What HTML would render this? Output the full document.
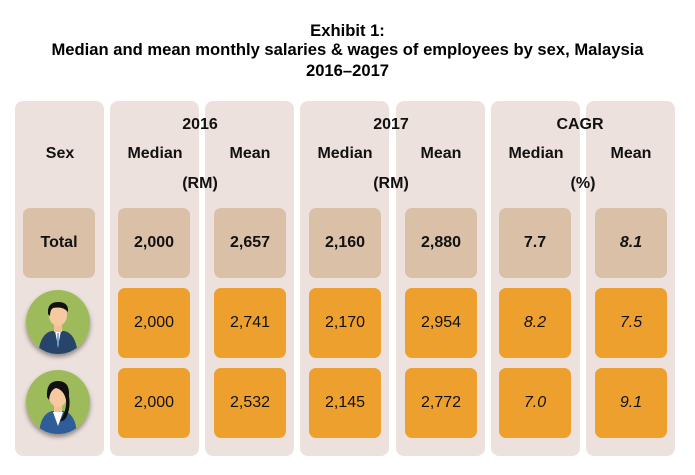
<!DOCTYPE html>
<html><head><style>
body{margin:0;background:#fff;width:695px;height:475px;position:relative;font-family:"Liberation Sans",Arial,sans-serif;overflow:hidden}
.t{position:absolute;left:0;width:695px;text-align:center;font-weight:bold;font-size:16.6px;color:#000}
.col{position:absolute;top:101px;height:355px;width:89px;background:#ede1dd;border-radius:8px}
.box{position:absolute;width:72px;height:70px;border-radius:7px;display:flex;align-items:center;justify-content:center;font-size:16px;color:#111}
.tot{background:#dbc0a8;font-weight:bold;top:208px}
.o{background:#eea02f}
.r2{top:288px}.r3{top:368px}
.h{position:absolute;font-weight:bold;font-size:16px;color:#111;transform:translateX(-50%);white-space:nowrap}
i{font-style:italic}
</style></head><body>
<div class="t" style="top:21px">Exhibit 1:</div>
<div class="t" style="top:40px">Median and mean monthly salaries &amp; wages of employees by sex, Malaysia</div>
<div class="t" style="top:61px">2016–2017</div>

<div class="col" style="left:15px"></div>
<div class="col" style="left:110px"></div>
<div class="col" style="left:205px"></div>
<div class="col" style="left:300px"></div>
<div class="col" style="left:396px"></div>
<div class="col" style="left:491px"></div>
<div class="col" style="left:586px"></div>

<div class="h" style="left:200px;top:116px">2016</div>
<div class="h" style="left:391px;top:116px">2017</div>
<div class="h" style="left:580px;top:116px">CAGR</div>
<div class="h" style="left:60px;top:145px">Sex</div>
<div class="h" style="left:155px;top:145px">Median</div>
<div class="h" style="left:250px;top:145px">Mean</div>
<div class="h" style="left:345px;top:145px">Median</div>
<div class="h" style="left:441px;top:145px">Mean</div>
<div class="h" style="left:536px;top:145px">Median</div>
<div class="h" style="left:631px;top:145px">Mean</div>
<div class="h" style="left:200px;top:175px">(RM)</div>
<div class="h" style="left:391px;top:175px">(RM)</div>
<div class="h" style="left:583px;top:175px">(%)</div>

<div class="box tot" style="left:23px">Total</div>
<div class="box tot" style="left:118px">2,000</div>
<div class="box tot" style="left:214px">2,657</div>
<div class="box tot" style="left:309px">2,160</div>
<div class="box tot" style="left:405px">2,880</div>
<div class="box tot" style="left:499px">7.7</div>
<div class="box tot" style="left:595px"><i>8.1</i></div>

<div class="box o r2" style="left:118px">2,000</div>
<div class="box o r2" style="left:214px">2,741</div>
<div class="box o r2" style="left:309px">2,170</div>
<div class="box o r2" style="left:405px">2,954</div>
<div class="box o r2" style="left:499px"><i>8.2</i></div>
<div class="box o r2" style="left:595px"><i>7.5</i></div>

<div class="box o r3" style="left:118px">2,000</div>
<div class="box o r3" style="left:214px">2,532</div>
<div class="box o r3" style="left:309px">2,145</div>
<div class="box o r3" style="left:405px">2,772</div>
<div class="box o r3" style="left:499px"><i>7.0</i></div>
<div class="box o r3" style="left:595px"><i>9.1</i></div>

<svg style="position:absolute;left:0;top:0" width="695" height="475">
<defs><filter id="s" x="-30%" y="-30%" width="160%" height="160%"><feDropShadow dx="0" dy="3" stdDeviation="2.5" flood-color="#000" flood-opacity="0.4"/></filter>
<clipPath id="c1"><circle cx="58" cy="322" r="32"/></clipPath>
<clipPath id="c2"><circle cx="58" cy="402" r="32"/></clipPath></defs>
<circle cx="58" cy="322" r="32" fill="#9dbb5a" filter="url(#s)"/>
<g clip-path="url(#c1)">
<path d="M38 355 Q40 333 52 331 L64 331 Q76 333 78 355Z" fill="#27446a"/>
<path d="M55 331 L58 346 L61 331Z" fill="#fff"/>
<path d="M57.3 333 L58.7 333 L59 345 L58 348 L57 345Z" fill="#6a9ad0"/>
<rect x="54" y="322" width="8" height="10" fill="#f4c197"/>
<ellipse cx="58" cy="315" rx="9" ry="11" fill="#f6c9a0"/>
<path d="M48 314 Q47 302 58 302 Q69 302 68 312 Q63 306 53 308 Q50 310 50 316Z" fill="#111"/>
</g>
<circle cx="58" cy="402" r="32" fill="#9dbb5a" filter="url(#s)"/>
<g clip-path="url(#c2)">
<path d="M39 435 Q40 414 52 411 L64 411 Q76 414 77 435Z" fill="#2f5d9a"/>
<path d="M53 412 L58 426 L63 412Z" fill="#fff"/>
<rect x="54" y="402" width="8" height="10" fill="#f4c197"/>
<ellipse cx="58" cy="396" rx="9" ry="11" fill="#f6c9a0"/>
<path d="M47 397 Q46 381 58 381 Q70 381 69 396 Q71 408 66 418 Q63 422 60 421 Q67 410 66 400 Q64 390 56 388 Q50 390 49 400Z" fill="#111"/>
</g>
</svg>
</body></html>
